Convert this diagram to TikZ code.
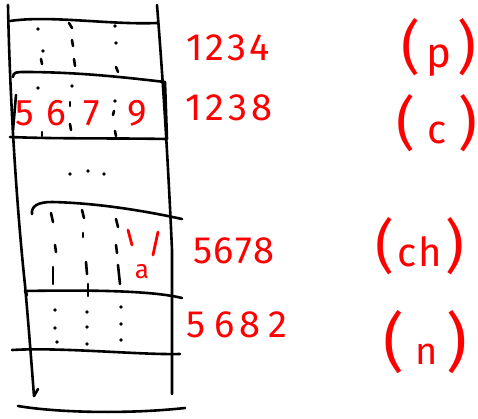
\documentclass[tikz,border=0pt]{standalone}
\usepackage{fontspec}
\setmainfont{Fira Sans}
\begin{document}
\begin{tikzpicture}[x=1pt,y=-1pt,
  ink/.style={line width=2.6pt, line cap=round, line join=round, black},
  rink/.style={line width=2.8pt, line cap=round, red},
  lbl/.style={red, inner sep=0pt, font=\fontsize{38}{38}\selectfont},
  dig/.style={red, inner sep=0pt, font=\fontsize{37}{37}\selectfont},
  tag/.style={red, inner sep=0pt}]
\useasboundingbox (0,0) rectangle (478,418);
% column sides
\draw[ink] (8,5) .. controls (10,110) and (18,220) .. (25,285) .. controls (29,330) and (32,370) .. (34,396);
\draw[ink] (34,396) -- (38,389);
\draw[ink] (157,5) .. controls (163,80) and (168,160) .. (172,250) -- (172,394);
% horizontal lines
\draw[ink] (10,21) .. controls (50,15) and (110,25) .. (157,23);
\draw[ink] (13,77) .. controls (13,72) and (17,72) .. (25,72) .. controls (80,72) and (130,78) .. (165,82);
\draw[ink] (165,82) -- (167,139);
\draw[ink] (16,95) -- (13,130);
\draw[ink] (10,137) .. controls (60,139) and (120,138) .. (166,139);
\draw[ink] (32,214) .. controls (31,206) and (38,202) .. (52,202) .. controls (100,203) and (150,212) .. (182,219);
\draw[ink] (27,295) -- (25,291) .. controls (80,290) and (150,290) .. (182,298);
\draw[ink] (12,350) .. controls (60,347) and (140,355) .. (180,354);
\draw[ink] (18,406) .. controls (60,413) and (130,414) .. (185,408);
% dots
\foreach \x/\y in {38/29,115/26,43/51,116/43,38/88,72/86,115/101,
    70/174,88/171,104/174,
    55/310,87/312,121/307,55/328,87/327,121/324,57/342,87/344,121/340}
  \fill (\x,\y) circle (1.8);
% dashes
\foreach \x/\y/\u/\v in {69/23/72/28,72/40/73/46,41/59/42/64,74/59/75/66,116/67/118/72,
    70/102/70/106,114/111/113/115,70/124/71/130,42/132/42/136,115/131/116/136,
    51/213/53/222,82/210/84/218,116/219/118/227,83/233/83/237,55/245/56/252,116/245/117/253,
    53/267/53/284,86/262/87/274,88/284/88/296,118/265/120/284}
  \draw[ink] (\x,\y) -- (\u,\v);
% red marks in the ch row
\draw[rink] (128,230) -- (132,245);
\draw[rink] (158,232) -- (153,255);
\node[tag, font=\fontsize{26}{26}\selectfont] (a) at (142,272) {a};
% digits in the c box
\node[dig] (d5) at (25,113) {5};
\node[dig] (d6) at (56,113) {6};
\node[dig] (d7) at (92,113) {7};
\node[dig] (d9) at (137,113) {9};
% numbers
\node[lbl] (n1) at (228,48) {1\hspace{3pt}2\hspace{3pt}3\hspace{3pt}4};
\node[lbl] (n2) at (229,108) {1\hspace{4pt}2\hspace{4pt}3\hspace{4pt}8};
\node[lbl] (n3) at (234,251) {5\hspace{1pt}6\hspace{1pt}7\hspace{1pt}8};
\node[lbl] (n4) at (237,325) {5\hspace{8pt}6\hspace{5pt}8\hspace{8pt}2};
% tags
\node[tag] (tp) at (439,47) {\fontsize{58}{58}\selectfont(\hspace{6pt}{\fontsize{42}{42}\selectfont p}\hspace{6pt})};
\node[tag] (tc) at (437,123) {\fontsize{58}{58}\selectfont(\hspace{12pt}{\fontsize{40}{40}\selectfont c}\hspace{12pt})};
\node[tag] (tch) at (420,246) {\fontsize{58}{58}\selectfont(\hspace{3pt}{\fontsize{40}{40}\selectfont c\hspace{2pt}h}\hspace{3pt})};
\node[tag] (tn) at (425,342) {\fontsize{64}{64}\selectfont(\hspace{12pt}{\fontsize{38}{38}\selectfont n}\hspace{8pt})};
\end{tikzpicture}
\end{document}
